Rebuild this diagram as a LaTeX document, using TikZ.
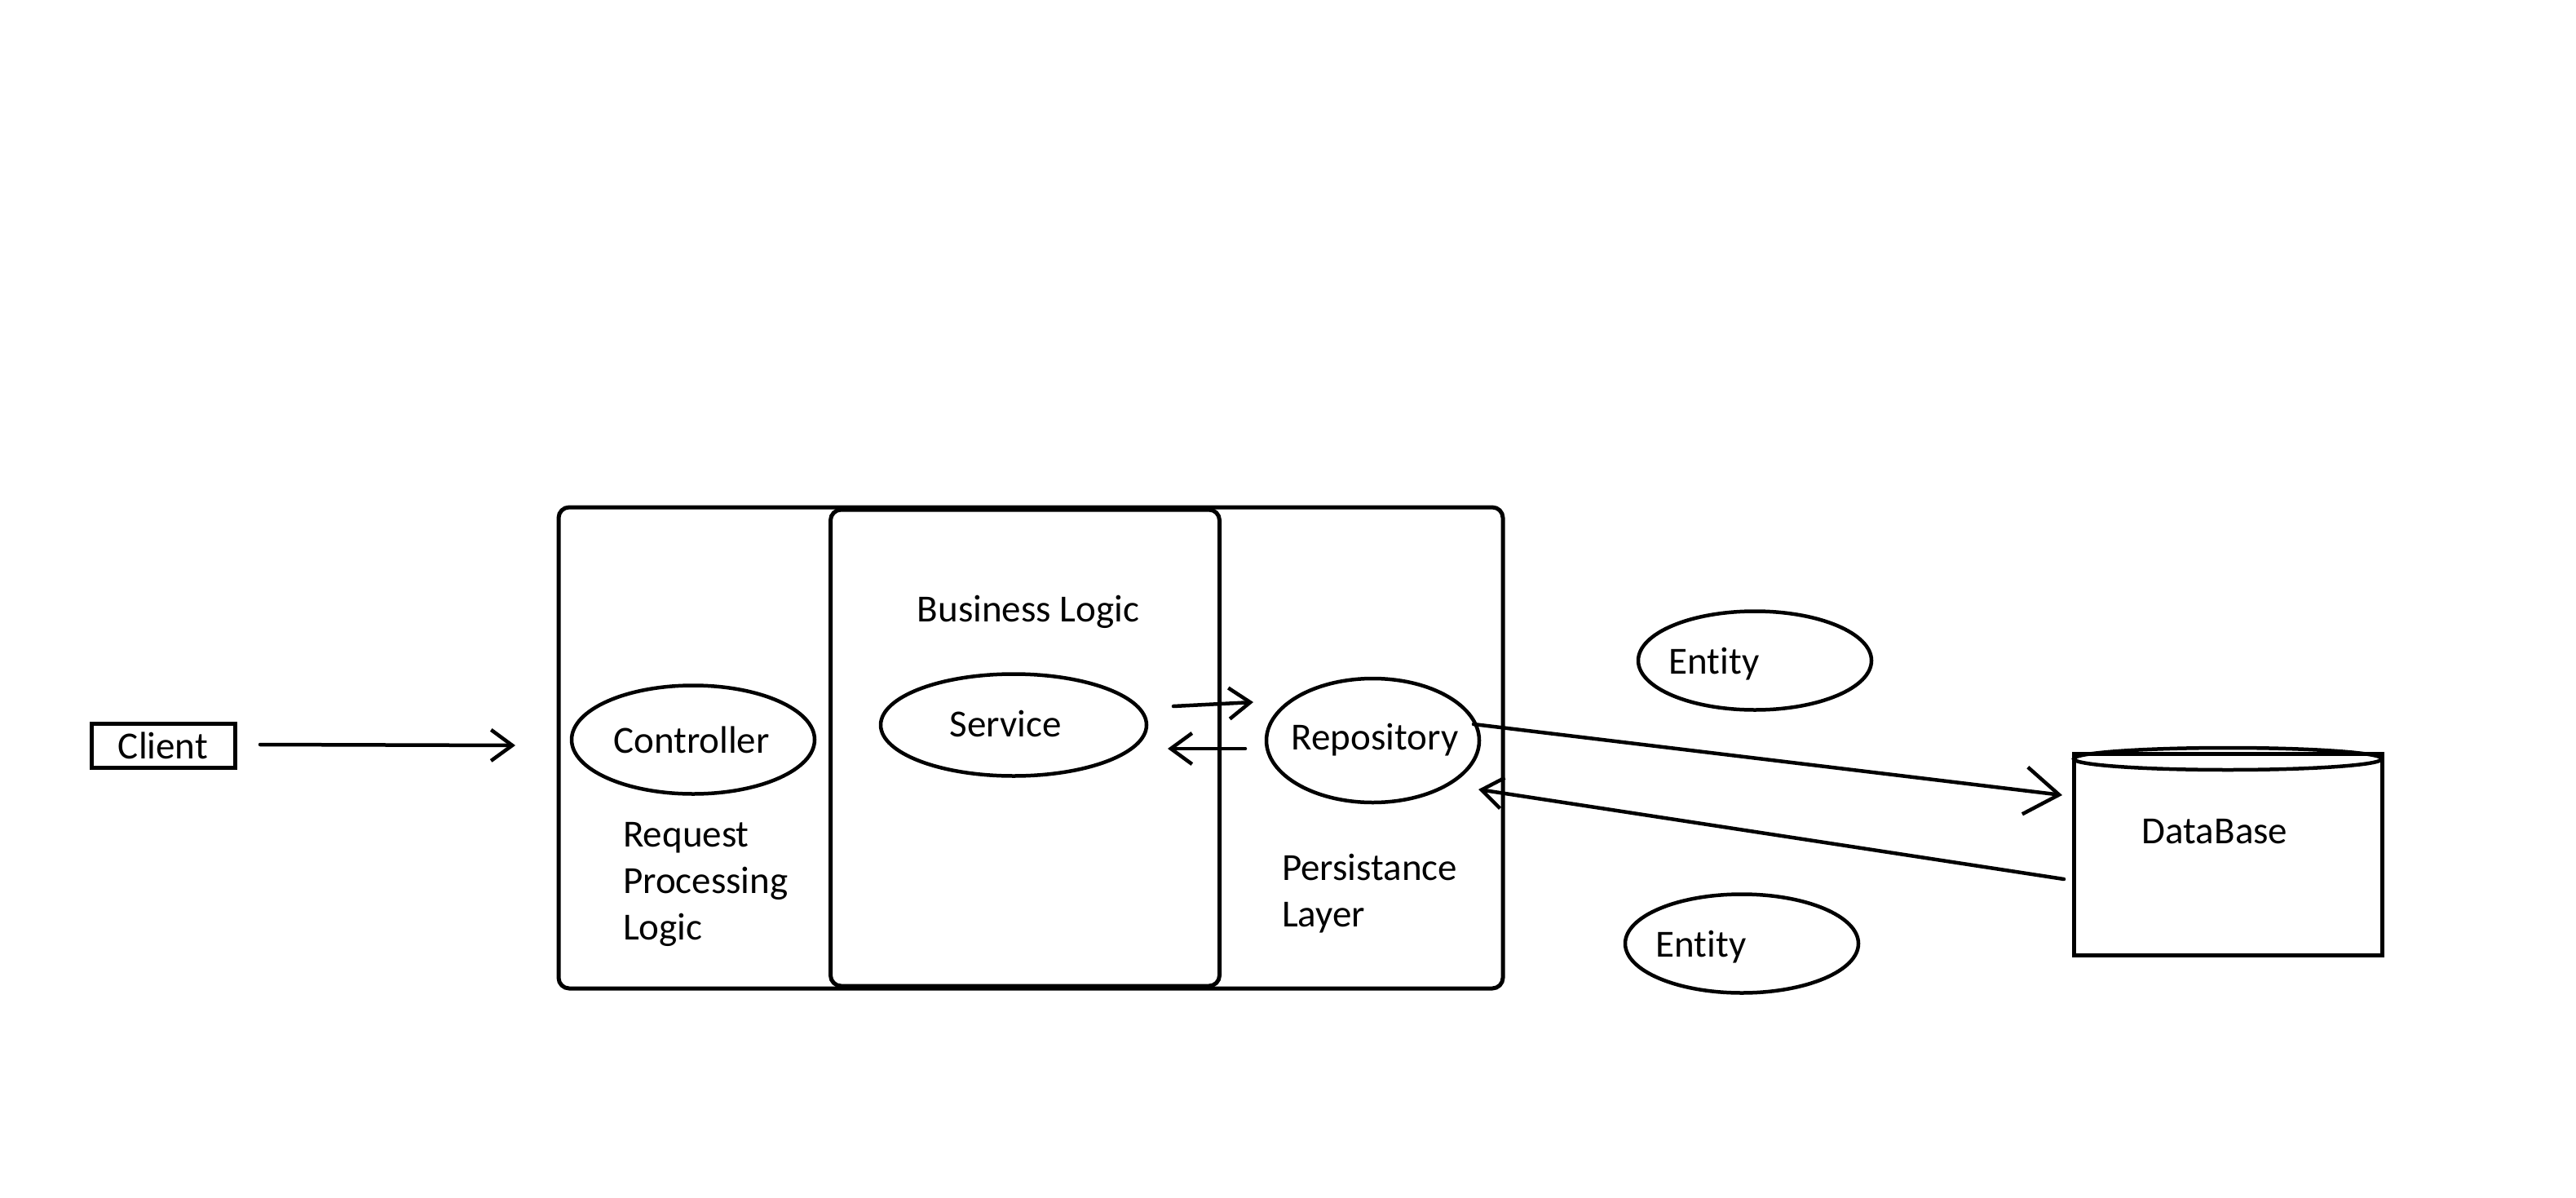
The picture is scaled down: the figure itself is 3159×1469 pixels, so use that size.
\documentclass[tikz,border=0pt]{standalone}
\usepackage{fontspec}
\setmainfont{Carlito}[RawFeature=-liga]
\usetikzlibrary{shapes.geometric,arrows.meta,calc}
\begin{document}
\begin{tikzpicture}[x=1pt,y=-1pt,
  every node/.style={font=\fontsize{47}{57}\selectfont},
  box/.style={draw, line width=5pt, rounded corners=13pt, inner sep=0pt},
  plainbox/.style={draw, line width=5pt, inner sep=0pt},
  oval/.style={draw, ellipse, line width=4.5pt, inner sep=0pt},
  lbl/.style={inner sep=0pt, align=left},
  conn/.style={line width=4.5pt, line cap=round, -{Straight Barb[length=26pt,width=38pt,line width=4.5pt]}},
  bigconn/.style={line width=4.5pt, line cap=round, -{Straight Barb[length=42pt,width=58pt,line width=4.5pt]}}]
\useasboundingbox (0,0) rectangle (3159,1469);

% client
\node[plainbox, minimum width=176pt, minimum height=54pt] (client) at (200,914.5) {Client};

% layer boxes
\node[box, minimum width=1158pt, minimum height=590pt] (outer) at (1264,917) {};
\node[box, minimum width=477pt, minimum height=584pt] (inner) at (1257,917) {};

\node[lbl] (bl) at (1261,750) {Business Logic};

% ellipses
\node[oval, minimum width=298pt, minimum height=133pt] (controller) at (850,907) {};
\node[lbl] (controllertxt) at (848,907) {Controller};
\node[oval, minimum width=326pt, minimum height=125pt] (service) at (1243,889) {};
\node[lbl] (servicetxt) at (1233,887) {Service};
\node[oval, minimum width=261pt, minimum height=152pt] (repo) at (1683.5,908) {};
\node[lbl] (repotxt) at (1686,907) {Repository};

\node[lbl, anchor=west] (rpl) at (764,1084) {Request\\Processing\\Logic};
\node[lbl, anchor=west] (pl) at (1572,1096) {Persistance\\Layer};

% entities
\node[oval, minimum width=286pt, minimum height=121pt] (ent1) at (2152,810) {};
\node[lbl] (ent1txt) at (2102,814) {Entity};
\node[oval, minimum width=286pt, minimum height=121pt] (ent2) at (2136,1157) {};
\node[lbl] (ent2txt) at (2086,1161) {Entity};

% database
\node[plainbox, minimum width=378pt, minimum height=247pt] (db) at (2732,1048) {};
\draw[line width=4.5pt] ($(db.north)+(0,8.5)$) ellipse [x radius=189pt, y radius=13.5pt];
\node[lbl] (dbtxt) at (2716,1020) {DataBase};

% connector ends
\coordinate (c1) at (319,913);
\coordinate (c2) at (632,914);
\coordinate (s1) at (1439,866);
\coordinate (s2) at (1537,861);
\coordinate (r1) at (1527,918);
\coordinate (r2) at (1432,918);
\coordinate (d1) at (1807,888);
\coordinate (d2) at (2529,975);
\coordinate (e1) at (2531,1078);
\coordinate (e2) at (1813,968);

\draw[conn] (c1) -- (c2);
\draw[conn] (s1) -- (s2);
\draw[conn] (r1) -- (r2);
\draw[bigconn] (d1) -- (d2);
\draw[conn] (e1) -- (e2);
\end{tikzpicture}
\end{document}
